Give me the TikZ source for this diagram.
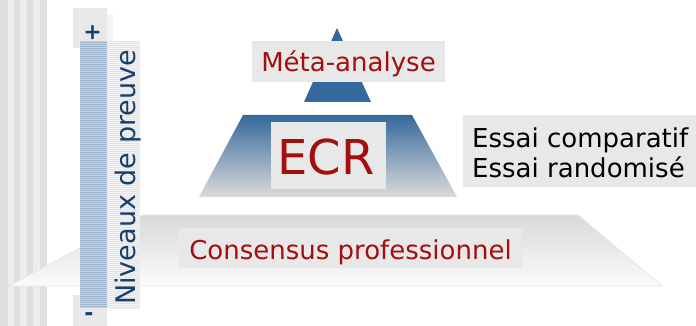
\documentclass[tikz,border=0pt]{standalone}
\usepackage{fontspec}
\setmainfont{DejaVu Sans}
\definecolor{stripeA}{HTML}{DFDFDF}
\definecolor{stripeB}{HTML}{EDEDED}
\definecolor{boxgray}{HTML}{E8E8E8}
\definecolor{pyrblue}{HTML}{35689C}
\definecolor{darkred}{HTML}{A30E0E}
\definecolor{navy}{HTML}{173F6B}
\definecolor{barA}{HTML}{9FB4CD}
\definecolor{barB}{HTML}{C6D3E2}
\definecolor{colA}{HTML}{E4E4E4}
\definecolor{colB}{HTML}{F3F3F3}
\begin{document}
\begin{tikzpicture}[x=1pt,y=-1pt,
  labelbox/.style={fill=boxgray, inner sep=0pt, draw=none},
  redtext/.style={text=darkred, font=\fontsize{26}{30}\selectfont, inner sep=0pt},
  blacktext/.style={text=black, font=\fontsize{26}{30}\selectfont, inner sep=0pt}]
\useasboundingbox (0,0) rectangle (696,326);
% left stripes
\foreach \a/\b/\c in {0/8/stripeA,8/14/stripeB,14/20/stripeA,20/27/stripeB,27/33/stripeA,33/40/stripeB,40/47/stripeA}
  \fill[\c] (\a,0) rectangle (\b,326);
% bottom trapezoid
\path[top color=black!15, bottom color=black!1.5, draw=black!10, line width=0.8pt]
  (143,215) -- (578,215) -- (662,286) -- (8,286) -- cycle;
% middle trapezoid
\path[top color=pyrblue, middle color=pyrblue!45!black!15, bottom color=black!14, draw=none]
  (243,115) -- (412,115) -- (457,197) -- (199,197) -- cycle;
% top triangle
\fill[pyrblue] (337,28) -- (371,102) -- (304,102) -- cycle;
% plus / minus boxes
\fill[boxgray] (73,8) rectangle (107,48);
\fill[black!5] (107,15) rectangle (113,41);
\fill[boxgray] (73,295) rectangle (107,326);
% text column background
\fill[colB] (107,41) rectangle (140,309);
\foreach \y in {41,43,...,307} \fill[colA] (107,\y) rectangle (140,\y+1);
% blue striped bar
\fill[barA] (80,41) rectangle (107,308);
\foreach \y in {41,43,...,307} \fill[barB] (80,\y) rectangle (107,\y+1);
\node[text=navy, font=\bfseries\fontsize{22}{24}\selectfont, inner sep=0pt] (plus) at (92.5,32.5) {+};
\node[text=navy, font=\bfseries\fontsize{22}{24}\selectfont, inner sep=0pt] (minus) at (89,317) {-};
\node[text=navy, rotate=90, anchor=base west, inner sep=0pt, font=\fontsize{27}{30}\selectfont] (niveaux) at (135,305) {Niveaux de preuve};
% label boxes
\node[labelbox, minimum width=193pt, minimum height=41pt] (metabox) at (348.5,61.5) {};
\node[redtext, anchor=base] (meta) at (348.5,72) {Méta-analyse};
\node[labelbox, minimum width=115pt, minimum height=67pt] (ecrbox) at (328.5,155.5) {};
\node[redtext, font=\fontsize{48}{52}\selectfont, anchor=base] (ecr) at (326,174) {ECR};
\node[labelbox, minimum width=344pt, minimum height=40pt] (consbox) at (351,248) {};
\node[redtext, anchor=base] (cons) at (350.5,259) {Consensus professionnel};
\node[labelbox, minimum width=233pt, minimum height=72pt] (essaibox) at (579.5,151) {};
\node[blacktext, anchor=base west] (essai1) at (472,147) {Essai comparatif};
\node[blacktext, anchor=base west] (essai2) at (472,177) {Essai randomisé};
\end{tikzpicture}
\end{document}
